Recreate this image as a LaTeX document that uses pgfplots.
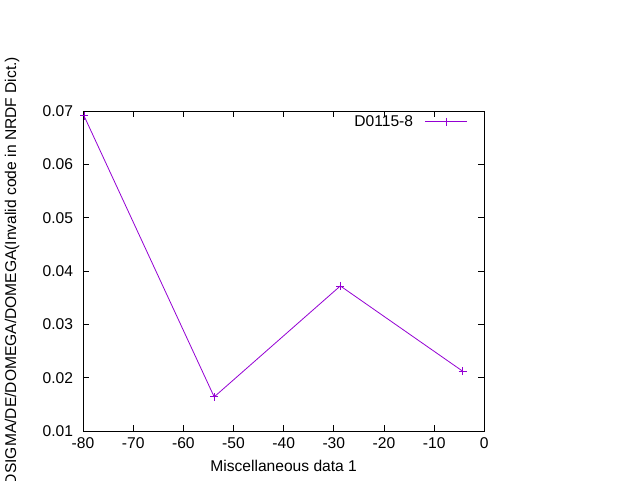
\documentclass[border=0pt]{standalone}
\usepackage{fontspec}
\setmainfont{Liberation Sans}
\usepackage{pgfplots}
\pgfplotsset{compat=1.18}
\definecolor{gpurple}{RGB}{148,0,211}
\begin{document}
\begin{tikzpicture}
\begin{axis}[
  at={(62.25pt,36.75pt)}, anchor=south west,
  scale only axis, width=301pt, height=240pt,
  xmin=-80, xmax=0, ymin=0.01, ymax=0.07,
  xtick={-80,-70,-60,-50,-40,-30,-20,-10,0},
  ytick={0.01,0.02,0.03,0.04,0.05,0.06,0.07},
  scaled y ticks=false,
  /pgf/number format/assume math mode=true,
  yticklabel style={/pgf/number format/fixed,/pgf/number format/precision=2,/pgf/number format/fixed zerofill},
  tick align=inside, major tick length=4.5pt,
  tick style={black, line width=0.6pt},
  axis line style={line width=0.75pt},
  font=\fontsize{11.7}{13}\selectfont,
  xticklabel style={yshift=-1.5pt},
  yticklabel style={xshift=-4pt},
  xlabel={Miscellaneous data 1},
  xlabel style={at={(axis description cs:0.5,-0.109)}, anchor=center},
  ylabel={DSIGMA/DE/DOMEGA/DOMEGA(Invalid code in NRDF Dict.)},
  ylabel style={at={(axis description cs:-0.177,0.5)}, anchor=center},
  legend style={draw=none, fill=none, at={(axis description cs:0.958,0.966)}, anchor=east, inner sep=0pt, font=\fontsize{11.7}{13}\selectfont},
  legend plot pos=right,
  legend cell align=right,
  legend image code/.code={\path (0pt,0pt); \draw[#1, mark repeat=2, mark phase=2] plot coordinates {(7pt,0pt) (22.5pt,0pt) (38pt,0pt)};},
]
\addplot[color=gpurple, line width=0.6pt, mark=+, mark size=3pt, mark options={line width=0.6pt}] coordinates {
  (-79.8,0.0691) (-53.85,0.0164) (-28.7,0.0372) (-4.3,0.0212)
};
\addlegendentry{D0115-8}
\end{axis}
\pgfresetboundingbox
\path[use as bounding box] (0pt,0pt) rectangle (480pt,360pt);
\end{tikzpicture}
\end{document}
